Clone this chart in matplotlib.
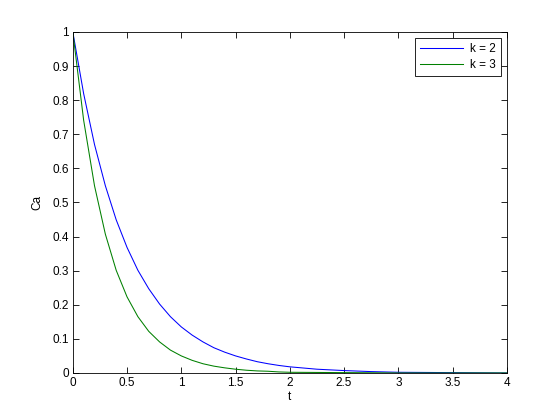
import matplotlib
matplotlib.use("Agg")
import matplotlib.pyplot as plt

t_vals = [0.0, 0.1, 0.2, 0.3, 0.4, 0.5, 0.6, 0.7, 0.8, 0.9, 1.0, 1.1, 1.2, 1.3, 1.4,
          1.5, 1.6, 1.7, 1.8, 1.9, 2.0, 2.25, 2.5, 2.75, 3.0, 3.5, 4.0]
ca_k2 = [1.0, 0.819, 0.670, 0.549, 0.449, 0.368, 0.301, 0.247, 0.202, 0.165, 0.135,
         0.111, 0.091, 0.074, 0.061, 0.050, 0.041, 0.033, 0.027, 0.022, 0.018,
         0.011, 0.007, 0.004, 0.002, 0.001, 0.0]
ca_k3 = [1.0, 0.741, 0.549, 0.407, 0.301, 0.223, 0.165, 0.122, 0.091, 0.067, 0.050,
         0.037, 0.027, 0.020, 0.015, 0.011, 0.008, 0.006, 0.005, 0.003, 0.002,
         0.0015, 0.001, 0.0005, 0.0, 0.0, 0.0]
labels = ["k = 2", "k = 3"]
xticks = [0, 0.5, 1, 1.5, 2, 2.5, 3, 3.5, 4]
yticks = [0, 0.1, 0.2, 0.3, 0.4, 0.5, 0.6, 0.7, 0.8, 0.9, 1]

plt.rcParams['font.family'] = ['Liberation Sans', 'DejaVu Sans']
plt.rcParams['font.size'] = 8.5

fig = plt.figure(figsize=(5.6, 4.2), dpi=100)
ax = fig.add_axes([0.13, 0.112, 0.775, 0.812])
ax.plot(t_vals, ca_k2, color=(0, 0, 1), lw=0.75, label=labels[0])
ax.plot(t_vals, ca_k3, color=(0, 0.5, 0), lw=0.75, label=labels[1])
ax.set_xlim(0, 4)
ax.set_ylim(0, 1)
ax.set_xticks(xticks)
ax.set_xticklabels([f"{v:g}" for v in xticks])
ax.set_yticks(yticks)
ax.set_yticklabels([f"{v:g}" for v in yticks])
ax.tick_params(direction='in', top=True, right=True, length=4, width=0.6, pad=3)
for s in ax.spines.values():
    s.set_linewidth(0.6)
ax.set_xlabel("t", labelpad=1)
ax.set_ylabel("Ca", labelpad=6)
leg = ax.legend(loc='upper right', fancybox=False, framealpha=1, edgecolor='black',
                borderaxespad=0.5, handlelength=3.6, handletextpad=0.6,
                borderpad=0.45, labelspacing=0.3)
leg.get_frame().set_linewidth(0.6)
fig.savefig("out.png", dpi=100)
